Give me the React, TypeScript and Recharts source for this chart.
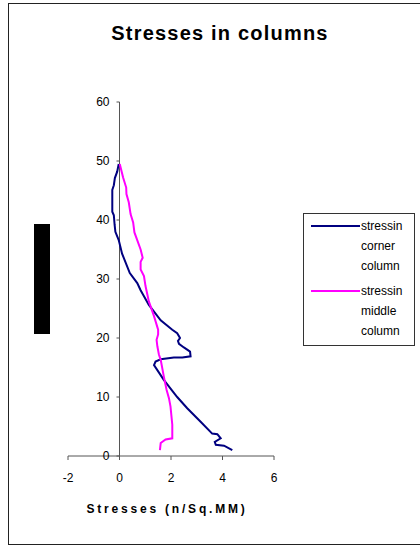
import { ReferenceDot, ReferenceLine, Scatter, ScatterChart, XAxis, YAxis } from "recharts";

// stress in the corner column (n/sq.mm) against height
const cornerStress = [
  4.38, 4.06, 3.74, 3.7, 3.93, 3.8, 3.6, 3.15, 2.63, 2.24, 1.72, 1.34, 1.4, 1.6, 2.11, 2.44, 2.76,
  2.74, 2.5, 2.31, 2.27, 2.35, 2.24, 2.05, 1.6, 1.14, 0.82, 0.69, 0.4, 0.1, -0.03, -0.16, -0.19,
  -0.22, -0.28, -0.28, -0.22, -0.18, -0.09, -0.03,
];
const cornerHeight = [
  1.0, 1.75, 1.9, 2.4, 3.0, 3.7, 3.8, 5.8, 8.1, 10.0, 12.9, 15.4, 16.0, 16.4, 16.7, 16.7, 16.9,
  17.7, 18.4, 19.0, 19.5, 20.0, 20.8, 21.4, 23.0, 25.6, 28.1, 29.3, 31.0, 34.3, 36.6, 38.0, 39.2,
  40.8, 41.4, 45.1, 45.9, 47.1, 48.2, 49.5,
];

// stress in the middle column
const middleStress = [
  1.57, 1.6, 1.79, 2.05, 2.05, 1.98, 1.92, 1.83, 1.72, 1.6, 1.53, 1.47, 1.44, 1.5, 1.5, 1.34, 1.14,
  1.01, 0.95, 0.82, 0.82, 0.9, 0.82, 0.58, 0.53, 0.43, 0.36, 0.27, 0.26, 0.14, 0.01,
];
const middleHeight = [
  1.0, 2.2, 2.8, 3.0, 5.3, 8.4, 9.8, 11.2, 13.5, 16.3, 17.2, 18.6, 19.7, 20.6, 21.4, 23.7, 26.2,
  28.8, 30.5, 31.6, 32.9, 33.6, 35.0, 37.9, 39.6, 41.0, 43.0, 44.4, 45.5, 47.2, 49.5,
];

const xTicks = [-2, 0, 2, 4, 6];
const yTicks = [0, 10, 20, 30, 40, 50, 60];

const seriesNames = ["stressin corner column", "stressin middle column"];
const seriesColors = ["#000080", "#ff00ff"];

const cornerData = cornerStress.map((x, i) => ({ x, y: cornerHeight[i] }));
const middleData = middleStress.map((x, i) => ({ x, y: middleHeight[i] }));

const FONT = "'Liberation Sans', Arial, sans-serif";
const AXIS = "#555";

const noDot = () => <g />;

// y axis crosses at x = 0, so its ticks and labels hang off that line
const YTick = (props: any) => {
  const { cx, cy, payload } = props;
  return (
    <g>
      <line x1={cx - 3} y1={cy} x2={cx} y2={cy} stroke={AXIS} strokeWidth={1} />
      <text x={cx - 10} y={cy} dy="0.35em" textAnchor="end" fontSize={12} fill="#000" fontFamily={FONT}>
        {payload}
      </text>
    </g>
  );
};

function LegendBox() {
  return (
    <div
      style={{
        position: "absolute",
        left: 303,
        top: 213,
        width: 112,
        height: 133,
        border: "1px solid #333",
        boxSizing: "border-box",
        background: "#fff",
        fontFamily: FONT,
        fontSize: 12,
        color: "#000",
      }}
    >
      {seriesNames.map((name, i) => {
        const words = name.split(" ");
        return (
          <div key={name} style={{ position: "absolute", left: 7, top: 3 + i * 65 }}>
            <div
              style={{
                position: "absolute",
                left: 0,
                top: 8,
                width: 49,
                height: 2,
                background: seriesColors[i],
              }}
            />
            {words.map((w, j) => (
              <div key={j} style={{ position: "absolute", left: 50, top: j * 20, lineHeight: "18px", whiteSpace: "nowrap" }}>
                {w}
              </div>
            ))}
          </div>
        );
      })}
    </div>
  );
}

export default function App() {
  return (
    <div style={{ position: "absolute", left: 0, top: 0, width: 420, height: 546, background: "#fff", overflow: "hidden", fontFamily: FONT }}>
      <div
        style={{
          position: "absolute",
          left: 8,
          top: 3,
          width: 430,
          height: 542,
          border: "1.5px solid #222",
          boxSizing: "border-box",
        }}
      />
      <div
        style={{
          position: "absolute",
          left: 0,
          width: 440,
          top: 22,
          textAlign: "center",
          fontSize: 20,
          fontWeight: "bold",
          letterSpacing: 1.2,
          color: "#000",
        }}
      >
        Stresses in columns
      </div>
      <div style={{ position: "absolute", left: 34, top: 224, width: 16, height: 110, background: "#000" }} />

      <div style={{ position: "absolute", left: 0, top: 0 }}>
        <ScatterChart width={420} height={546} margin={{ top: 102, left: 68, right: 146, bottom: 60 }}>
          <XAxis
            type="number"
            dataKey="x"
            domain={[-2, 6]}
            ticks={xTicks}
            interval={0}
            allowDataOverflow
            stroke={AXIS}
            tickSize={4}
            tickMargin={13}
            height={30}
            tick={{ fill: "#000", fontSize: 12, fontFamily: FONT }}
          />
          <YAxis type="number" dataKey="y" domain={[0, 60]} ticks={yTicks} hide />
          <ReferenceLine x={0} stroke={AXIS} strokeWidth={1} ifOverflow="visible" />
          {yTicks.map((v) => (
            <ReferenceDot
              key={v}
              x={0}
              y={v}
              r={0}
              ifOverflow="visible"
              shape={(p: any) => <YTick {...p} payload={v} />}
            />
          ))}
          <Scatter
            name={seriesNames[0]}
            data={cornerData}
            line={{ stroke: seriesColors[0], strokeWidth: 2 }}
            shape={noDot}
            isAnimationActive={false}
          />
          <Scatter
            name={seriesNames[1]}
            data={middleData}
            line={{ stroke: seriesColors[1], strokeWidth: 2 }}
            shape={noDot}
            isAnimationActive={false}
          />
        </ScatterChart>
      </div>

      <div
        style={{
          position: "absolute",
          left: 0,
          width: 334,
          top: 502,
          textAlign: "center",
          fontSize: 12,
          fontWeight: "bold",
          letterSpacing: 2.8,
          color: "#000",
        }}
      >
        Stresses (n/Sq.MM)
      </div>
      <LegendBox />
    </div>
  );
}
